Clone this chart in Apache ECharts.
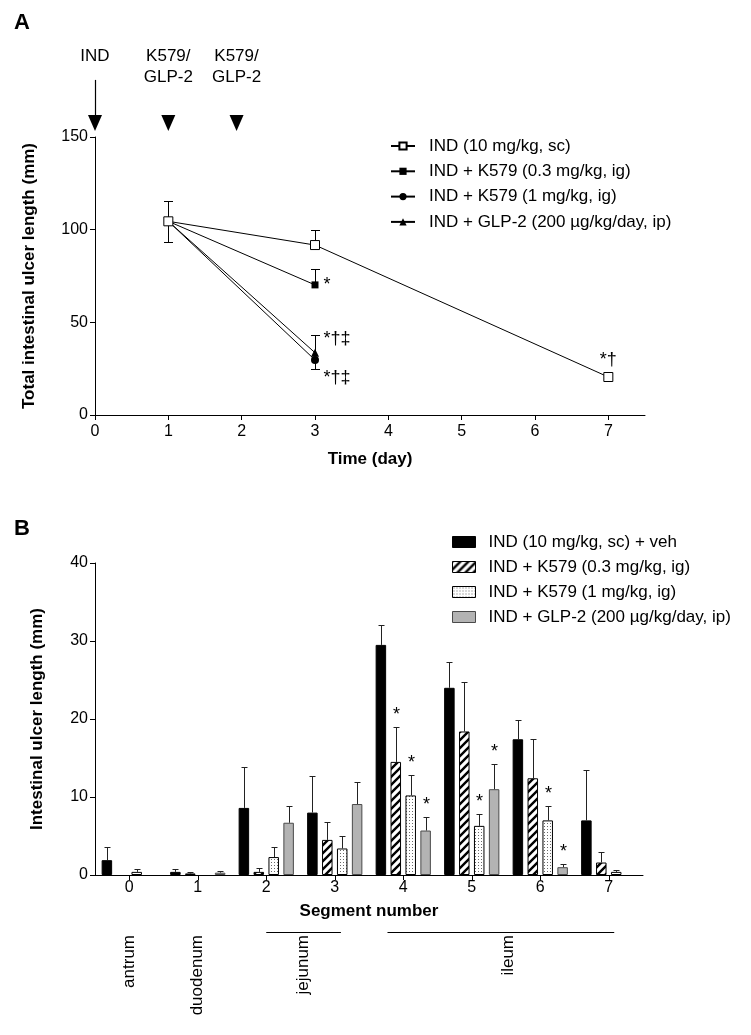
<!DOCTYPE html>
<html><head><meta charset="utf-8">
<script src="https://cdn.jsdelivr.net/npm/echarts@6/dist/echarts.min.js"></script>
<style>html,body{margin:0;padding:0;background:#fff}#c{width:751px;height:1035px}</style>
</head><body><div id="c"></div>
<script>
// ---------- Panel A data ----------
const namesA = ['IND (10 mg/kg, sc)', 'IND + K579 (0.3 mg/kg, ig)', 'IND + K579 (1 mg/kg, ig)', 'IND + GLP-2 (200 µg/kg/day, ip)'];
const daysInd = [1, 3, 7];
const daysTreat = [1, 3];
const indVals = [104.5, 91.7, 20.5];
const indErrUp = [11, 8, 2];
const indErrDown = [11, 0, 0];
const k03Vals = [104.5, 70.2];
const k03ErrUp = [0, 8.8];
const k03ErrDown = [0, 0];
const k1Vals = [104.5, 29.7];
const k1ErrUp = [0, 0];
const k1ErrDown = [0, 5];
const glpVals = [104.5, 33.6];
const glpErrUp = [0, 9.6];
const glpErrDown = [0, 0];
const indSig = ['', '', '*†'];
const k03Sig = ['', '*'];
const k1Sig = ['', '*†‡'];
const glpSig = ['', '*†‡'];
const dosingDays = [0, 1, 1.93];
const dosingLevel = [157.6, 157.6, 157.6];
const dosingLabels = ['IND', 'K579/\nGLP-2', 'K579/\nGLP-2'];
const xTicksA = [0, 1, 2, 3, 4, 5, 6, 7];

// ---------- Panel B data ----------
const namesB = ['IND (10 mg/kg, sc) + veh', 'IND + K579 (0.3 mg/kg, ig)', 'IND + K579 (1 mg/kg, ig)', 'IND + GLP-2 (200 µg/kg/day, ip)'];
const segments = ['0', '1', '2', '3', '4', '5', '6', '7'];
const vehVals = [1.9, 0.4, 8.6, 8.0, 29.5, 24.0, 17.4, 7.0];
const vehErr  = [1.7, 0.4, 5.3, 4.7, 2.5, 3.3, 2.5, 6.5];
const k03BVals = [0, 0.2, 0.4, 4.5, 14.5, 18.4, 12.4, 1.6];
const k03BErr  = [0, 0.2, 0.45, 2.3, 4.5, 6.4, 5.1, 1.4];
const k1BVals = [0.4, 0, 2.3, 3.4, 10.2, 6.3, 7.0, 0.4];
const k1BErr  = [0.4, 0, 1.3, 1.6, 2.6, 1.5, 1.8, 0.25];
const glpBVals = [0, 0.3, 6.7, 9.1, 5.7, 11.0, 1.0, 0];
const glpBErr  = [0, 0.2, 2.1, 2.8, 1.8, 3.2, 0.4, 0];
const vehSig = [0, 0, 0, 0, 0, 0, 0, 0];
const k03BSig = [0, 0, 0, 0, 1, 0, 0, 0];
const k1BSig = [0, 0, 0, 0, 1, 1, 1, 0];
const glpBSig = [0, 0, 0, 0, 1, 1, 1, 0];
const regionNames = ['antrum', 'duodenum', 'jejunum', 'ileum'];
const regionCenters = [0, 1, 2.54, 5.54];
const regionLineStart = [null, null, 2.0, 3.77];
const regionLineEnd = [null, null, 3.09, 7.08];

// ---------- styling helpers ----------
const FONT = "'Liberation Sans', Arial, Helvetica, sans-serif";
function hatchPattern() {
  const c = document.createElement('canvas'); c.width = 8; c.height = 8;
  const g = c.getContext('2d');
  g.fillStyle = '#fff'; g.fillRect(0, 0, 8, 8);
  g.strokeStyle = '#000'; g.lineWidth = 2.4; g.lineCap = 'square';
  g.beginPath();
  g.moveTo(-2, 10); g.lineTo(10, -2);
  g.moveTo(-2, 2); g.lineTo(2, -2);
  g.moveTo(6, 10); g.lineTo(10, 6);
  g.stroke();
  return c;
}
function dotPattern() {
  const c = document.createElement('canvas'); c.width = 3; c.height = 3;
  const g = c.getContext('2d');
  g.fillStyle = '#fff'; g.fillRect(0, 0, 3, 3);
  g.fillStyle = '#6a6a6a'; g.fillRect(1, 1, 1, 1);
  return c;
}
const hatchFill = { image: hatchPattern(), repeat: 'repeat' };
const dotFill = { image: dotPattern(), repeat: 'repeat' };

const barStyles = [
  { color: '#000', borderColor: '#000', borderWidth: 1 },
  { color: hatchFill, borderColor: '#000', borderWidth: 1 },
  { color: dotFill, borderColor: '#000', borderWidth: 1 },
  { color: '#b3b3b3', borderColor: '#4a4a4a', borderWidth: 1 }
];

const BAR_W = 10.5, BAR_GAP = 0.42, BAR_STEP = BAR_W * (1 + BAR_GAP);

function lineData(xs, vals, sig) {
  return xs.map((x, i) => ({ value: [x, vals[i]], label: { show: !!sig[i], formatter: sig[i] } }));
}
function barData(vals) {
  return vals.map(v => v === 0 ? { value: v, itemStyle: { borderWidth: 0 } } : v);
}
function errRowsA(xs, vals, up, dn) { return xs.map((x, i) => [x, vals[i], up[i], dn[i]]); }
const errA = [].concat(
  errRowsA(daysInd, indVals, indErrUp, indErrDown),
  errRowsA(daysTreat, k03Vals, k03ErrUp, k03ErrDown),
  errRowsA(daysTreat, k1Vals, k1ErrUp, k1ErrDown),
  errRowsA(daysTreat, glpVals, glpErrUp, glpErrDown)
);
const valsB = [vehVals, k03BVals, k1BVals, glpBVals];
const errsB = [vehErr, k03BErr, k1BErr, glpBErr];
const sigsB = [vehSig, k03BSig, k1BSig, glpBSig];
const errB = [];
valsB.forEach((arr, s) => arr.forEach((v, i) => errB.push([i, v, errsB[s][i], s, sigsB[s][i]])));

const blk = { stroke: '#000', lineWidth: 1 };
function seg(x1, y1, x2, y2, st) { return { type: 'line', shape: { x1, y1, x2, y2 }, style: st || blk }; }

const lineSeriesBase = { type: 'line', xAxisIndex: 0, yAxisIndex: 0, lineStyle: { color: '#000', width: 1 }, emphasis: { disabled: true }, label: { fontFamily: FONT, fontSize: 18, color: '#000' } };
const legendText = { fontFamily: FONT, fontSize: 17, color: '#000', lineHeight: 18 };

const option = {
  animation: false,
  backgroundColor: '#fff',
  textStyle: { fontFamily: FONT },
  title: [
    { text: 'A', left: 14, top: 12, padding: 0, textStyle: { fontFamily: FONT, fontSize: 22, fontWeight: 'bold', color: '#000' } },
    { text: 'B', left: 14, top: 518, padding: 0, textStyle: { fontFamily: FONT, fontSize: 22, fontWeight: 'bold', color: '#000' } }
  ],
  legend: [
    { data: namesA, orient: 'vertical', left: 390, top: 137, padding: 0, itemWidth: 24, itemHeight: 9, itemGap: 7.3,
      selectedMode: false, textStyle: Object.assign({}, legendText, { padding: [0, 0, 0, 9] }) },
    { data: namesB.map((n, i) => ({ name: n, itemStyle: barStyles[i] })), orient: 'vertical', left: 452, top: 533, padding: 0,
      itemWidth: 23, itemHeight: 11, itemGap: 7, selectedMode: false, icon: 'rect',
      textStyle: Object.assign({}, legendText, { padding: [0, 0, 0, 8] }) }
  ],
  grid: [
    { left: 95, top: 137, width: 550, height: 278 },
    { left: 95, top: 563, width: 548, height: 312 }
  ],
  xAxis: [
    { gridIndex: 0, type: 'value', min: 0, max: 7.5, interval: 1,
      name: 'Time (day)', nameLocation: 'middle', nameGap: 36,
      nameTextStyle: { fontFamily: FONT, fontSize: 17, fontWeight: 'bold', color: '#000' },
      axisLine: { show: true, lineStyle: { color: '#000', width: 1 } },
      axisTick: { show: true, length: 5, customValues: xTicksA, lineStyle: { color: '#000' } },
      axisLabel: { customValues: xTicksA, fontFamily: FONT, fontSize: 16, color: '#000', margin: 9 },
      splitLine: { show: false } },
    { gridIndex: 1, type: 'category', data: segments,
      name: 'Segment number', nameLocation: 'middle', nameGap: 28,
      nameTextStyle: { fontFamily: FONT, fontSize: 17, fontWeight: 'bold', color: '#000' },
      axisLine: { show: true, lineStyle: { color: '#000', width: 1 } },
      axisTick: { show: true, length: 5, alignWithLabel: true, lineStyle: { color: '#000' } },
      axisLabel: { fontFamily: FONT, fontSize: 16, color: '#000', margin: 5 },
      splitLine: { show: false } }
  ],
  yAxis: [
    { gridIndex: 0, type: 'value', min: 0, max: 150, interval: 50,
      name: 'Total intestinal ulcer length (mm)', nameLocation: 'middle', nameGap: 57,
      nameTextStyle: { fontFamily: FONT, fontSize: 17, fontWeight: 'bold', color: '#000' },
      axisLine: { show: true, lineStyle: { color: '#000', width: 1 } },
      axisTick: { show: true, length: 5, lineStyle: { color: '#000' } },
      axisLabel: { fontFamily: FONT, fontSize: 16, color: '#000', margin: 7 },
      splitLine: { show: false } },
    { gridIndex: 1, type: 'value', min: 0, max: 40, interval: 10,
      name: 'Intestinal ulcer length (mm)', nameLocation: 'middle', nameGap: 49,
      nameTextStyle: { fontFamily: FONT, fontSize: 17, fontWeight: 'bold', color: '#000' },
      axisLine: { show: true, lineStyle: { color: '#000', width: 1 } },
      axisTick: { show: true, length: 5, lineStyle: { color: '#000' } },
      axisLabel: { fontFamily: FONT, fontSize: 16, color: '#000', margin: 7 },
      splitLine: { show: false } }
  ],
  series: [
    // error bars panel A
    { type: 'custom', xAxisIndex: 0, yAxisIndex: 0, silent: true, z: 1, data: errA,
      renderItem(params, api) {
        const x = api.value(0), v = api.value(1), up = api.value(2), dn = api.value(3);
        const p = api.coord([x, v]); const ch = [];
        const px = Math.round(p[0]) + 0.5;
        if (up > 0) { const t = api.coord([x, v + up]); const ty = Math.round(t[1]) + 0.5; ch.push(seg(px, p[1], px, ty), seg(px - 4.5, ty, px + 4.5, ty)); }
        if (dn > 0) { const b = api.coord([x, v - dn]); const by = Math.round(b[1]) + 0.5; ch.push(seg(px, p[1], px, by), seg(px - 4.5, by, px + 4.5, by)); }
        return { type: 'group', children: ch };
      } },
    // dosing arrows
    { type: 'custom', xAxisIndex: 0, yAxisIndex: 0, silent: true, z: 3,
      data: dosingDays.map((d, i) => [d, dosingLevel[i]]),
      renderItem(params, api) {
        const p = api.coord([api.value(0), api.value(1)]);
        const x = p[0], y = p[1];
        const ch = [{ type: 'polygon', shape: { points: [[x - 7, y - 8], [x + 7, y - 8], [x, y + 8]] }, style: { fill: '#000' } }];
        if (params.dataIndex === 0) ch.push(seg(Math.round(x) + 0.5, y - 43, Math.round(x) + 0.5, y - 6, { stroke: '#000', lineWidth: 1.2 }));
        ch.push({ type: 'text', style: { text: dosingLabels[params.dataIndex], x: x, y: y - 77, align: 'center', verticalAlign: 'top', fontFamily: FONT, fontSize: 17, lineHeight: 21, fill: '#000' } });
        return { type: 'group', children: ch };
      } },
    Object.assign({}, lineSeriesBase, { name: namesA[1], data: lineData(daysTreat, k03Vals, k03Sig), symbol: 'rect', symbolSize: 7, z: 4,
      itemStyle: { color: '#000' }, label: Object.assign({}, lineSeriesBase.label, { position: 'right', distance: 5 }) }),
    Object.assign({}, lineSeriesBase, { name: namesA[2], data: lineData(daysTreat, k1Vals, k1Sig), symbol: 'circle', symbolSize: 8, z: 4,
      itemStyle: { color: '#000' }, label: Object.assign({}, lineSeriesBase.label, { position: 'inside', offset: [22, 18] }) }),
    Object.assign({}, lineSeriesBase, { name: namesA[3], data: lineData(daysTreat, glpVals, glpSig), symbol: 'triangle', symbolSize: 8, z: 4,
      itemStyle: { color: '#000' }, label: Object.assign({}, lineSeriesBase.label, { position: 'inside', offset: [22, -14] }) }),
    Object.assign({}, lineSeriesBase, { name: namesA[0], data: lineData(daysInd, indVals, indSig), symbol: 'rect', symbolSize: 9, z: 5,
      itemStyle: { color: '#fff', borderColor: '#000', borderWidth: 1 }, label: Object.assign({}, lineSeriesBase.label, { position: 'top', distance: 3 }) }),
    // bars panel B
    { type: 'bar', name: namesB[0], xAxisIndex: 1, yAxisIndex: 1, data: barData(vehVals), barWidth: BAR_W, barGap: (BAR_GAP * 100) + '%',
      itemStyle: barStyles[0], emphasis: { disabled: true } },
    { type: 'bar', name: namesB[1], xAxisIndex: 1, yAxisIndex: 1, data: barData(k03BVals), barWidth: BAR_W, barGap: (BAR_GAP * 100) + '%',
      itemStyle: barStyles[1], emphasis: { disabled: true } },
    { type: 'bar', name: namesB[2], xAxisIndex: 1, yAxisIndex: 1, data: barData(k1BVals), barWidth: BAR_W, barGap: (BAR_GAP * 100) + '%',
      itemStyle: barStyles[2], emphasis: { disabled: true } },
    { type: 'bar', name: namesB[3], xAxisIndex: 1, yAxisIndex: 1, data: barData(glpBVals), barWidth: BAR_W, barGap: (BAR_GAP * 100) + '%',
      itemStyle: barStyles[3], emphasis: { disabled: true } },
    // error bars + significance panel B
    { type: 'custom', xAxisIndex: 1, yAxisIndex: 1, silent: true, z: 3, data: errB,
      renderItem(params, api) {
        const c = api.value(0), v = api.value(1), e = api.value(2), s = api.value(3), sig = api.value(4);
        const base = api.coord([c, v]);
        const x = Math.round(base[0] + (s - 1.5) * BAR_STEP) + 0.5;
        const ch = [];
        let topY = base[1];
        if (e > 0) {
          const t = api.coord([c, v + e]); topY = Math.round(t[1]) + 0.5;
          const st = { stroke: '#222', lineWidth: 1 };
          ch.push(seg(x, base[1], x, topY, st), seg(x - 3, topY, x + 3, topY, st));
        }
        if (sig) ch.push({ type: 'text', style: { text: '*', x: x, y: topY - 3, align: 'center', verticalAlign: 'bottom', fontFamily: FONT, fontSize: 18, fill: '#000' } });
        return { type: 'group', children: ch };
      } },
    // anatomical regions under panel B
    { type: 'custom', xAxisIndex: 1, yAxisIndex: 1, silent: true, z: 3,
      data: regionNames.map(() => [0, 0]),
      renderItem(params, api) {
        const i = params.dataIndex;
        const band = api.size([1, 0])[0];
        const o = api.coord([0, 0]);
        const xOf = (v) => o[0] + v * band;
        const ch = [];
        if (regionLineStart[i] != null) {
          const ly = Math.round(o[1] + 57) + 0.5;
          ch.push(seg(xOf(regionLineStart[i]), ly, xOf(regionLineEnd[i]), ly));
        }
        ch.push({ type: 'text', x: xOf(regionCenters[i]), y: o[1] + 60, rotation: Math.PI / 2,
          style: { text: regionNames[i], x: 0, y: 0, align: 'right', verticalAlign: 'middle', fontFamily: FONT, fontSize: 17, fill: '#000' } });
        return { type: 'group', children: ch };
      } }
  ]
};
const chart = echarts.init(document.getElementById('c'));
chart.setOption(option);
</script>
</body></html>
